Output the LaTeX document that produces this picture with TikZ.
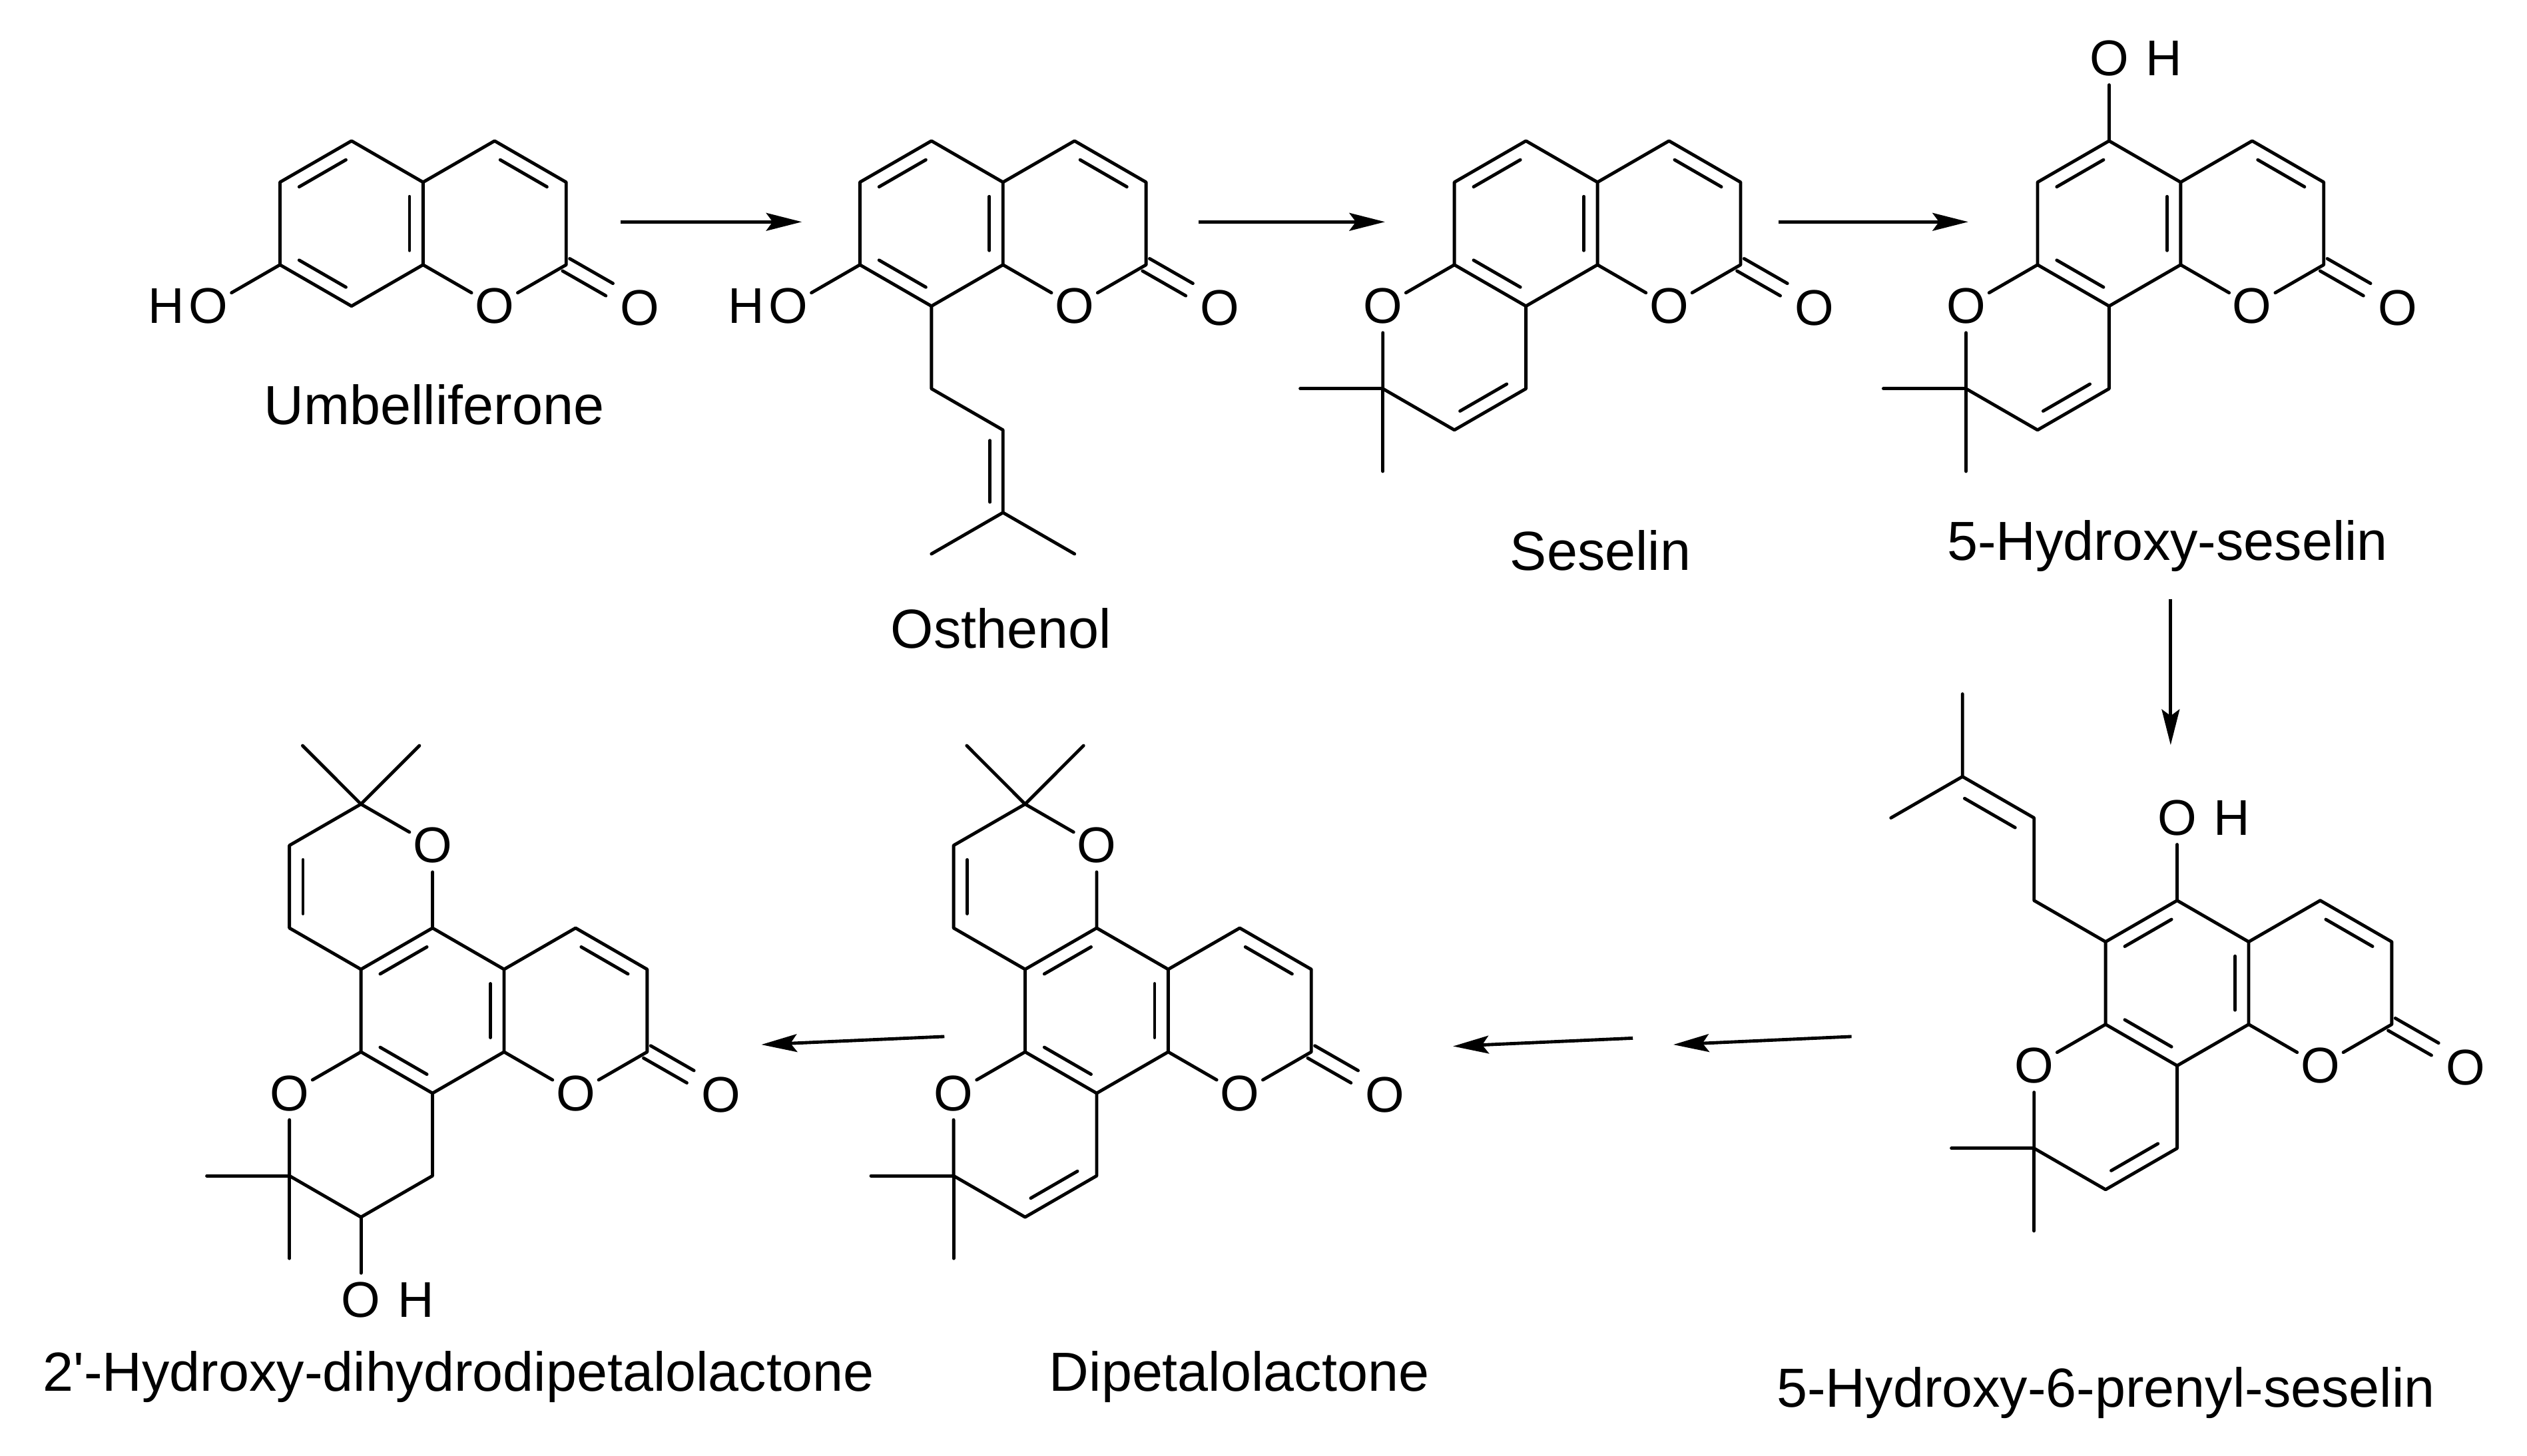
\documentclass[tikz,border=0pt]{standalone}
\usepackage{fontspec}
\setmainfont{Liberation Sans}
\usetikzlibrary{calc,arrows.meta}
\tikzset{
 bond/.style={line width=2pt,line cap=round,line join=round},
 atom/.style={circle,inner sep=0pt,minimum size=30pt,font=\fontsize{31}{31}\selectfont},
 hlab/.style={inner sep=0pt,font=\fontsize{31}{31}\selectfont},
 caption/.style={inner sep=0pt,font=\fontsize{34}{34}\selectfont},
 rxn/.style={line width=2pt,-{Stealth[length=22pt,width=11pt,inset=4pt]}}
}
\newcommand{\dbl}[3]{\draw[bond,shorten <=4pt,shorten >=4pt] ($(#1)!0.19!(#3)$) -- ($(#2)!0.19!(#3)$);}
\newcommand{\coumcore}[1]{%
 \coordinate (#1cA) at (0,0); \coordinate (#1cB) at (88.33,0);
 \coordinate (#1At) at (0,-51); \coordinate (#1Aur) at (44.17,-25.5);
 \coordinate (#1Alr) at (44.17,25.5); \coordinate (#1Ab) at (0,51);
 \coordinate (#1All) at (-44.17,25.5); \coordinate (#1Aul) at (-44.17,-25.5);
 \coordinate (#1Bt) at (88.33,-51); \coordinate (#1Bur) at (132.5,-25.5);
 \coordinate (#1Blr) at (132.5,25.5);
 \node[atom] (#1BO) at (88.33,51) {O};
 \node[atom] (#1OO) at (178,52) {O};
 \draw[bond] (#1At)--(#1Aur)--(#1Alr)--(#1Ab)--(#1All)--(#1Aul)--cycle;
 \draw[bond] (#1Aur)--(#1Bt)--(#1Bur)--(#1Blr)--(#1BO)--(#1Alr);
 \draw[bond] (130.3,29.3)--(157,44.6);
 \draw[bond] (134.7,21.7)--(161.4,37);
 \dbl{#1Aul}{#1At}{#1cA}\dbl{#1Aur}{#1Alr}{#1cA}\dbl{#1All}{#1Ab}{#1cA}\dbl{#1Bt}{#1Bur}{#1cB}
}
\newcommand{\pyranC}[1]{%
 \coordinate (#1cC) at (-44.17,76.5);
 \node[atom] (#1CO) at (-88.33,51) {O};
 \coordinate (#1Cg) at (-88.33,102); \coordinate (#1Cb) at (-44.17,127.5);
 \coordinate (#1Clr) at (0,102);
 \coordinate (#1Cm1) at (-139.33,102); \coordinate (#1Cm2) at (-88.33,153);
 \draw[bond] (#1All)--(#1CO)--(#1Cg)--(#1Cb)--(#1Clr)--(#1Ab);
 \draw[bond] (#1Cm1)--(#1Cg)--(#1Cm2);
}
\newcommand{\pyranD}[1]{%
 \coordinate (#1cD) at (-44.17,-76.5);
 \node[atom] (#1DO) at (0,-102) {O};
 \coordinate (#1Dg) at (-44.17,-127.5); \coordinate (#1Dul) at (-88.33,-102);
 \coordinate (#1Dll) at (-88.33,-51);
 \coordinate (#1Dm1) at (-80.2,-163.6); \coordinate (#1Dm2) at (-8.1,-163.6);
 \draw[bond] (#1At)--(#1DO)--(#1Dg)--(#1Dul)--(#1Dll)--(#1Aul);
 \draw[bond] (#1Dm1)--(#1Dg)--(#1Dm2);
 \dbl{#1Dul}{#1Dll}{#1cD}
}
\newcommand{\topOH}[1]{%
 \node[atom] (#1OHo) at (0,-102) {O};
 \node[hlab,anchor=west] (#1OHh) at ([xshift=6pt]#1OHo.east) {H};
 \draw[bond] (#1At)--(#1OHo);
}
\begin{document}
\begin{tikzpicture}[x=1pt,y=-1pt]
\useasboundingbox (0,0) rectangle (1560,899);
% 1 Umbelliferone
\begin{scope}[shift={(217,138)}]
 \coumcore{a}
 \node[atom] (aHO) at (-88.33,51) {O};
 \node[hlab,anchor=east] (aHOh) at ([xshift=2pt]aHO.west) {H};
 \draw[bond] (aAll)--(aHO);
\end{scope}
\node[caption] (capa) at (268,250) {Umbelliferone};
% 2 Osthenol
\begin{scope}[shift={(575,138)}]
 \coumcore{b}
 \node[atom] (bHO) at (-88.33,51) {O};
 \node[hlab,anchor=east] (bHOh) at ([xshift=2pt]bHO.west) {H};
 \draw[bond] (bAll)--(bHO);
 \coordinate (bp1) at (0,102); \coordinate (bp2) at (44.17,127.5);
 \coordinate (bp3) at (44.17,178.5); \coordinate (bp4) at (0,204); \coordinate (bp5) at (88.33,204);
 \draw[bond] (bAb)--(bp1)--(bp2)--(bp3)--(bp4); \draw[bond] (bp3)--(bp5);
 \draw[bond] (36.2,134)--(36.2,172);
\end{scope}
\node[caption] (capb) at (618,388) {Osthenol};
% 3 Seselin
\begin{scope}[shift={(942,138)}]
 \coumcore{c}\pyranC{c}\dbl{cCb}{cClr}{ccC}
\end{scope}
\node[caption] (capc) at (988,340) {Seselin};
% 4 5-Hydroxy-seselin
\begin{scope}[shift={(1302,138)}]
 \coumcore{d}\pyranC{d}\dbl{dCb}{dClr}{dcC}\topOH{d}
\end{scope}
\node[caption] (capd) at (1338,337) {5-Hydroxy-seselin};
% 5 5-Hydroxy-6-prenyl-seselin
\begin{scope}[shift={(1344,607)}]
 \coumcore{e}\pyranC{e}\dbl{eCb}{eClr}{ecC}\topOH{e}
 \coordinate (eq1) at (-88.33,-51); \coordinate (eq2) at (-88.33,-102);
 \coordinate (eq3) at (-132.5,-127.5); \coordinate (eq4) at (-132.5,-178.5);
 \coordinate (eq5) at (-176.67,-102);
 \draw[bond] (eAul)--(eq1)--(eq2)--(eq3)--(eq4); \draw[bond] (eq3)--(eq5);
 \draw[bond] (-100,-96)--(-131.2,-114);
\end{scope}
\node[caption] (cape) at (1300,860) {5-Hydroxy-6-prenyl-seselin};
% 6 Dipetalolactone
\begin{scope}[shift={(677,624)}]
 \coumcore{f}\pyranC{f}\dbl{fCb}{fClr}{fcC}\pyranD{f}
\end{scope}
\node[caption] (capf) at (765,850) {Dipetalolactone};
% 7 2'-Hydroxy-dihydrodipetalolactone
\begin{scope}[shift={(267,624)}]
 \coumcore{g}\pyranC{g}\pyranD{g}
 \node[atom] (gOHo) at (-44.17,178.5) {O};
 \node[hlab,anchor=west] (gOHh) at ([xshift=6pt]gOHo.east) {H};
 \draw[bond] (gCb)--(gOHo);
\end{scope}
\node[caption] (capg) at (283,850) {2\textquotesingle-Hydroxy-dihydrodipetalolactone};
% arrows
\coordinate (r1s) at (383,137); \coordinate (r1e) at (495,137);
\coordinate (r2s) at (740,137); \coordinate (r2e) at (855,137);
\coordinate (r3s) at (1098,137); \coordinate (r3e) at (1215,137);
\coordinate (r4s) at (1340,370); \coordinate (r4e) at (1340,460);
\coordinate (r5s) at (1143,640); \coordinate (r5e) at (1033,645);
\coordinate (r6s) at (1008,641); \coordinate (r6e) at (897,646);
\coordinate (r7s) at (583,640); \coordinate (r7e) at (470,645);
\foreach \i in {1,...,7} {\draw[rxn] (r\i s) -- (r\i e);}
\end{tikzpicture}
\end{document}
